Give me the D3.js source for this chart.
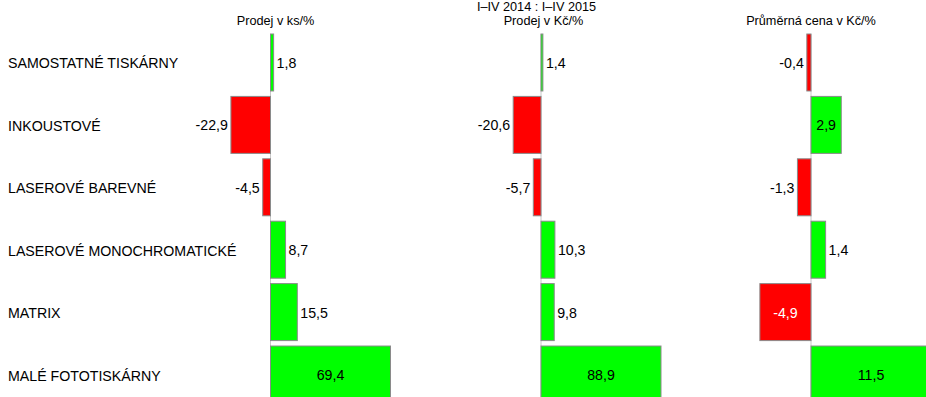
<!DOCTYPE html>
<html><head><meta charset="utf-8">
<script src="https://cdn.jsdelivr.net/npm/d3@7"></script>
<style>body{margin:0;background:#fff}svg{display:block}text{font-family:"Liberation Sans",Arial,sans-serif}</style>
</head><body>
<script>
const categories = ["SAMOSTATNÉ TISKÁRNY","INKOUSTOVÉ","LASEROVÉ BAREVNÉ","LASEROVÉ MONOCHROMATICKÉ","MATRIX","MALÉ FOTOTISKÁRNY"];
const prodejKs = [1.8, -22.9, -4.5, 8.7, 15.5, 69.4];
const prodejKc = [1.4, -20.6, -5.7, 10.3, 9.8, 88.9];
const prumernaCena = [-0.4, 2.9, -1.3, 1.4, -4.9, 11.5];
const panelTitles = ["Prodej v ks/%","Prodej v Kč/%","Průměrná cena v Kč/%"];
const mainTitle = "I–IV 2014 : I–IV 2015";

const W = 926, H = 397;
const svg = d3.select("body").append("svg").attr("width", W).attr("height", H);
const loc = d3.formatLocale({decimal: ",", thousands: " ", grouping: [3], currency: ["", ""], minus: "-"});
const fmt = loc.format(".1f");

const y = d3.scaleBand().domain(categories).range([34, 403]).paddingInner(0.087).paddingOuter(0);

// category labels
svg.selectAll("text.cat").data(categories).join("text")
  .attr("class","cat").attr("x", 8)
  .attr("y", d => y(d) + y.bandwidth()/2 + 6)
  .attr("font-size", 14.2).attr("fill", "#000").text(d => d);

const panels = [
  {values: prodejKs, zero: 270.5, title: panelTitles[0]},
  {values: prodejKc, zero: 541, title: panelTitles[1]},
  {values: prumernaCena, zero: 811, title: panelTitles[2]}
];

panels.forEach((p, i) => {
  const m = d3.max(p.values, v => Math.abs(v));
  const x = d3.scaleLinear().domain([-m, m]).range([p.zero - 120, p.zero + 120]);
  const g = svg.append("g");
  const rows = categories.map((c, j) => ({c, v: p.values[j]}));
  g.append("line").attr("x1", x(0)).attr("x2", x(0)).attr("y1", y.range()[0]).attr("y2", H)
    .attr("stroke", "#c8c8c8").attr("stroke-width", 1);
  g.selectAll("rect").data(rows).join("rect")
    .attr("x", d => Math.min(x(0), x(d.v)))
    .attr("y", d => y(d.c))
    .attr("width", d => Math.abs(x(d.v) - x(0)))
    .attr("height", y.bandwidth())
    .attr("fill", d => d.v < 0 ? "#ff0000" : "#00ff00")
    .attr("stroke", "#8a8a8a").attr("stroke-width", 1);
  g.selectAll("text.val").data(rows).join("text")
    .attr("class","val").attr("font-size", 14.2)
    .attr("y", d => y(d.c) + y.bandwidth()/2 + 5.5)
    .text(d => fmt(d.v))
    .each(function(d){
      const tw = this.getComputedTextLength();
      const bw = Math.abs(x(d.v) - x(0));
      const sel = d3.select(this);
      if (bw - tw >= 9) {
        sel.attr("x", (x(d.v) + x(0)) / 2).attr("text-anchor", "middle")
          .attr("fill", d.v < 0 ? "#fff" : "#000");
      } else if (d.v >= 0) {
        sel.attr("x", x(d.v) + 3).attr("text-anchor", "start").attr("fill", "#000");
      } else {
        sel.attr("x", x(d.v) - 3).attr("text-anchor", "end").attr("fill", "#000");
      }
    });
  svg.append("text").attr("x", p.zero + 5 - i*2.5).attr("y", 25).attr("text-anchor", "middle")
    .attr("font-size", 12.7).text(p.title);
});

svg.append("text").attr("x", 536.5).attr("y", 11).attr("text-anchor", "middle")
  .attr("font-size", 12.7).text(mainTitle);
</script>
</body></html>
